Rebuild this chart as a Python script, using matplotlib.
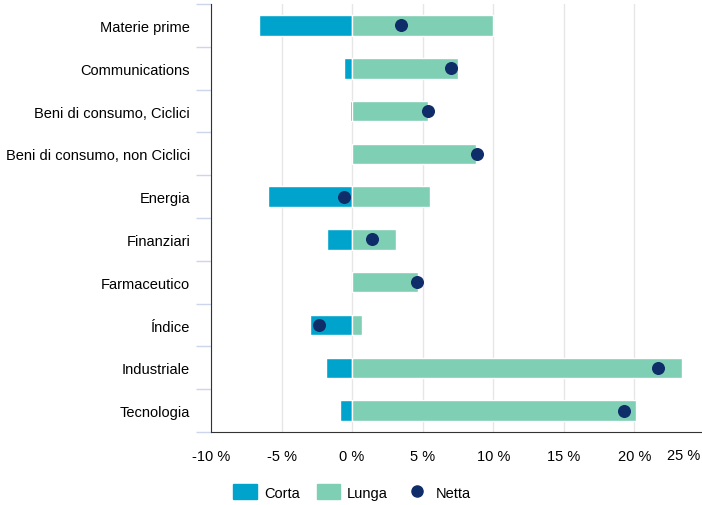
import matplotlib.pyplot as plt
from matplotlib.patches import Patch
from matplotlib.lines import Line2D

plt.rcParams['font.family'] = ['Liberation Sans', 'DejaVu Sans']

categories = ["Materie prime", "Communications", "Beni di consumo, Ciclici",
              "Beni di consumo, non Ciclici", "Energia", "Finanziari",
              "Farmaceutico", "Índice", "Industriale", "Tecnologia"]
corta = [-6.6, -0.55, -0.15, 0.0, -5.95, -1.77, 0.0, -2.97, -1.87, -0.85]
lunga = [10.0, 7.5, 5.4, 8.75, 5.5, 3.1, 4.65, 0.68, 23.4, 20.15]
netta = [3.5, 7.0, 5.35, 8.85, -0.55, 1.4, 4.6, -2.38, 21.7, 19.3]
x_ticks = [-10, -5, 0, 5, 10, 15, 20]
x_labels = ["-10 %", "-5 %", "0 %", "5 %", "10 %", "15 %", "20 %"]

c_short = "#00a3cc"
c_long = "#7fcfb4"
c_net = "#0f2d69"
fs = 10.5

fig = plt.figure(figsize=(7.02, 5.06), dpi=100)
ax = fig.add_axes([0.3006, 0.1443, 0.6994, 0.8457])

y = list(range(len(categories)))
ax.barh(y, corta, height=0.48, color=c_short, edgecolor="white", linewidth=1, zorder=2)
ax.barh(y, lunga, height=0.48, color=c_long, edgecolor="white", linewidth=1, zorder=2)
ax.scatter(netta, y, s=70, color=c_net, zorder=3)

ax.set_xlim(-10, 24.8)
ax.set_ylim(len(categories) - 0.5, -0.5)
ax.set_xticks(x_ticks)
ax.set_xticklabels(x_labels, fontsize=fs)
ax.tick_params(axis="x", length=0, pad=12)
ax.text(0.997, -0.038, "25 %", transform=ax.transAxes, ha="right", va="top", fontsize=fs)

ax.set_yticks(y)
ax.set_yticklabels(categories, fontsize=fs)
ax.tick_params(axis="y", length=0, pad=15)
ax.set_yticks([i - 0.5 for i in range(len(categories) + 1)], minor=True)
ax.tick_params(axis="y", which="minor", length=11, color="#ccd6eb", width=1)

ax.grid(axis="x", color="#e6e6e6", linewidth=1, zorder=0)
ax.set_axisbelow(True)
for side in ["top", "right"]:
    ax.spines[side].set_visible(False)
ax.spines["left"].set_color("#333333")
ax.spines["bottom"].set_color("#333333")

handles = [Patch(color=c_short, label="Corta"),
           Patch(color=c_long, label="Lunga"),
           Line2D([], [], marker="o", linestyle="none", color=c_net, markersize=8, label="Netta")]
fig.legend(handles=handles, loc="center", bbox_to_anchor=(352 / 702, 1 - 493 / 506), ncol=3,
           frameon=False, fontsize=fs, handlelength=1.6, handleheight=1.15,
           handletextpad=0.5, columnspacing=1.15)

plt.savefig("out.png")
